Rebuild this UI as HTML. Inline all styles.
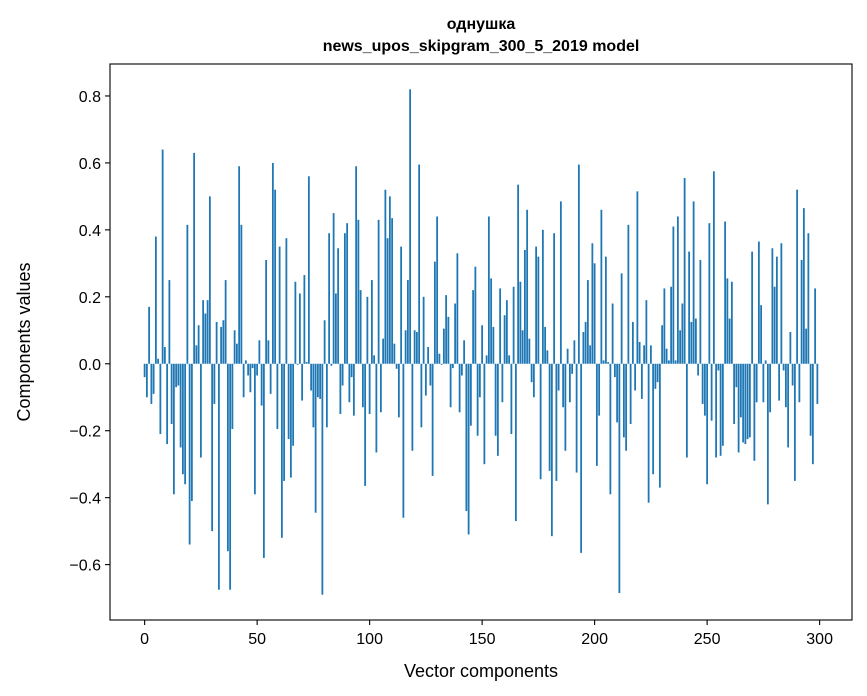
<!DOCTYPE html>
<html><head><meta charset="utf-8">
<style>
html,body{margin:0;padding:0;background:#fff;}
svg{display:block;font-family:"Liberation Sans","DejaVu Sans",sans-serif;}
</style></head>
<body>
<svg id="chart" width="867" height="696" viewBox="0 0 867 696" xmlns="http://www.w3.org/2000/svg">
<rect x="0" y="0" width="867" height="696" fill="#fff"/>
<text x="481" y="29" text-anchor="middle" font-size="16" font-weight="bold">однушка</text>
<text x="481" y="51" text-anchor="middle" font-size="16" font-weight="bold">news_upos_skipgram_300_5_2019 model</text>
<g id="bars"></g>
<g id="axes"></g>
<text x="481" y="677" text-anchor="middle" font-size="18">Vector components</text>
<text transform="translate(30,342) rotate(-90)" text-anchor="middle" font-size="18">Components values</text>
</svg>
<script>
const values = [
-0.04,-0.10,0.17,-0.12,-0.09,0.38,0.015,-0.21,0.64,0.05,
-0.24,0.25,-0.18,-0.39,-0.07,-0.065,-0.25,-0.33,-0.36,0.415,
-0.54,-0.41,0.63,0.055,0.115,-0.28,0.19,0.15,0.19,0.50,
-0.50,-0.12,0.125,-0.675,0.11,0.13,0.25,-0.56,-0.675,-0.195,
0.10,0.06,0.59,0.415,-0.10,0.01,-0.035,-0.085,-0.013,-0.39,
-0.035,0.07,-0.125,-0.58,0.31,0.07,-0.09,0.60,0.52,-0.195,
0.35,-0.52,-0.35,0.375,-0.225,-0.34,-0.245,0.245,-0.003,0.21,
-0.11,0.265,0.005,0.56,-0.08,-0.19,-0.445,-0.10,-0.105,-0.69,
0.13,-0.19,0.39,-0.006,0.45,0.21,0.345,-0.15,-0.065,0.39,
0.42,-0.115,-0.04,-0.155,0.59,0.43,0.22,-0.13,-0.365,0.20,
-0.15,0.25,0.025,-0.265,0.43,-0.145,0.075,0.52,0.375,0.50,
0.435,0.06,-0.015,-0.16,0.35,-0.46,0.10,0.25,0.82,-0.26,
0.10,0.095,0.595,-0.19,0.20,-0.095,0.05,-0.065,-0.335,0.305,
0.44,0.03,-0.003,0.105,0.205,0.14,-0.13,-0.013,0.18,0.33,
-0.145,-0.035,0.07,-0.44,-0.51,-0.185,0.22,0.29,-0.215,-0.10,
0.115,-0.30,0.025,0.44,0.255,0.11,-0.215,-0.275,0.225,-0.115,
0.145,0.19,0.025,-0.21,0.23,-0.47,0.535,0.245,0.10,0.34,
0.46,0.075,-0.055,-0.10,0.35,0.32,-0.345,0.40,0.11,0.04,
-0.32,-0.515,0.39,-0.35,-0.08,0.485,-0.13,-0.26,0.045,-0.115,
-0.03,0.07,-0.325,0.595,-0.565,0.095,0.125,0.25,0.055,0.36,
0.30,-0.305,-0.155,0.46,0.01,0.32,0.005,-0.39,0.18,-0.04,
-0.175,-0.685,0.27,-0.22,-0.26,0.415,-0.18,0.125,-0.08,0.515,
0.065,-0.105,0.055,0.19,-0.415,0.055,-0.33,-0.075,-0.055,-0.37,
0.115,0.225,0.045,0.01,0.23,0.41,0.01,0.44,0.10,0.18,
0.555,-0.28,0.335,0.125,0.485,0.135,-0.035,0.31,-0.12,-0.155,
-0.36,0.42,-0.17,0.575,-0.28,-0.02,-0.275,-0.245,0.425,0.255,
0.135,0.245,-0.18,-0.07,-0.265,-0.16,-0.235,-0.24,-0.225,-0.22,
0.335,-0.29,-0.115,0.365,0.175,-0.115,0.01,-0.42,-0.145,0.345,
0.23,0.32,-0.11,0.36,-0.02,-0.13,-0.25,0.095,-0.065,-0.35,
0.52,-0.115,0.31,0.465,0.105,0.39,-0.215,-0.30,0.225,-0.12
];
const xTicks = [0,50,100,150,200,250,300];
const yTicks = [-0.6,-0.4,-0.2,0.0,0.2,0.4,0.6,0.8];
const yTickLabels = ["\u22120.6","\u22120.4","\u22120.2","0.0","0.2","0.4","0.6","0.8"];

const L=110,R=852,T=64,B=620;
const ns="http://www.w3.org/2000/svg";
const n=values.length;
const xmin=-0.4-0.05*(n-0.2), xmax=(n-1)+0.4+0.05*(n-0.2);
const vmin=Math.min(0,...values), vmax=Math.max(0,...values);
const pad=(vmax-vmin)*0.05;
const ymin=vmin-pad, ymax=vmax+pad;
const xs=v=>L+(v-xmin)/(xmax-xmin)*(R-L);
const ys=v=>B-(v-ymin)/(ymax-ymin)*(B-T);

const bars=document.getElementById('bars');
const bw=xs(0.8)-xs(0);
values.forEach((v,i)=>{
  const r=document.createElementNS(ns,'rect');
  const y0=ys(0), y1=ys(v);
  r.setAttribute('x',xs(i)-bw/2);
  r.setAttribute('y',Math.min(y0,y1));
  r.setAttribute('width',bw);
  r.setAttribute('height',Math.max(Math.abs(y1-y0),0.01));
  r.setAttribute('fill','#1f77b4');
  
  
  bars.appendChild(r);
});

const axes=document.getElementById('axes');
function el(tag,attrs,text){const e=document.createElementNS(ns,tag);for(const k in attrs)e.setAttribute(k,attrs[k]);if(text!==undefined)e.textContent=text;axes.appendChild(e);return e;}
const frame=el('rect',{x:L,y:T,width:R-L,height:B-T,fill:'none',stroke:'#000','stroke-width':1.1});


xTicks.forEach(t=>{
  const x=xs(t);
  const tk=el('line',{x1:x,x2:x,y1:B,y2:B+5,stroke:'#000','stroke-width':1.1});
  
  
  const lb=el('text',{x:x,y:B+24,'text-anchor':'middle','font-size':16},String(t));
  
  
});
yTicks.forEach((t,i)=>{
  const y=ys(t);
  const tk=el('line',{x1:L-5,x2:L,y1:y,y2:y,stroke:'#000','stroke-width':1.1});
  
  
  const lb=el('text',{x:L-9,y:y+6,'text-anchor':'end','font-size':16},yTickLabels[i]);
  
  
});
</script>
</body></html>
